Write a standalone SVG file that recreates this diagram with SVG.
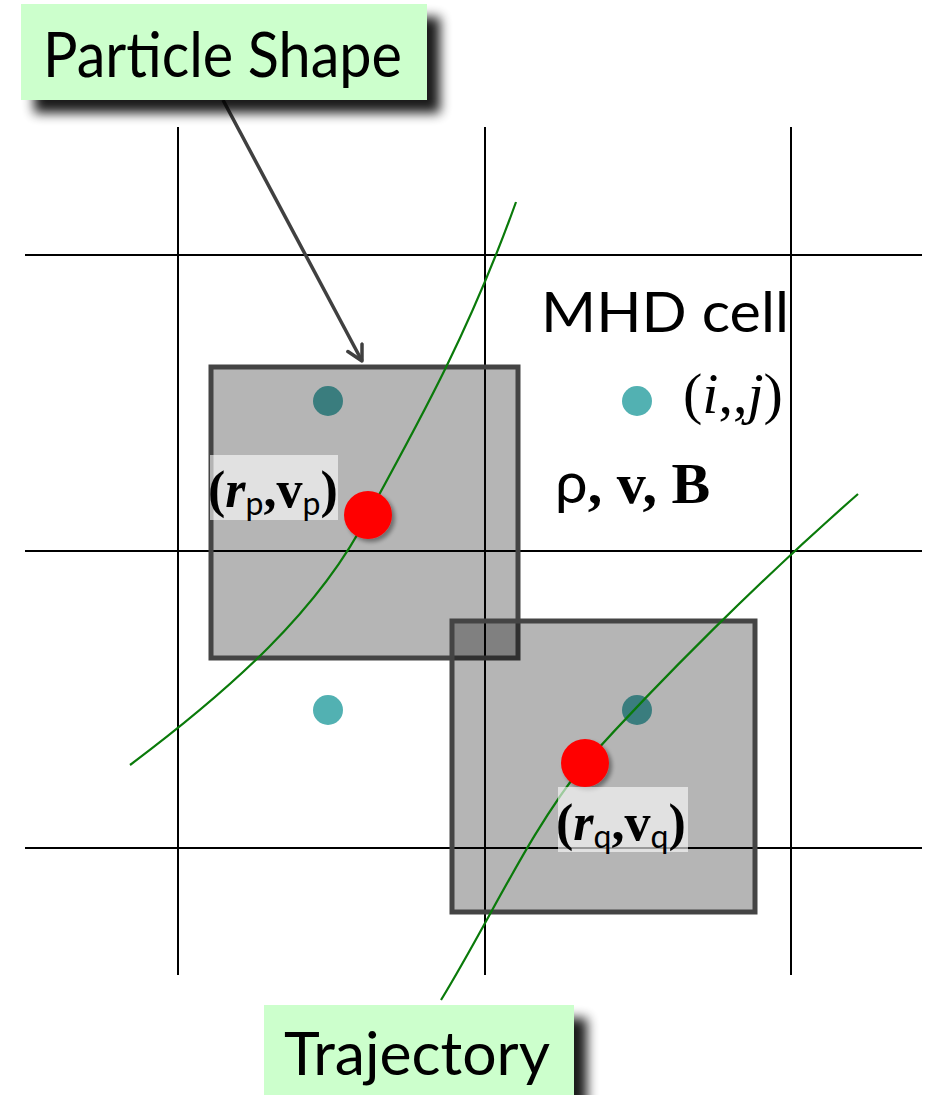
<svg xmlns="http://www.w3.org/2000/svg" width="932" height="1095" viewBox="0 0 932 1095">
<defs>
<filter id="sh" x="-10%" y="-20%" width="130%" height="170%">
<feGaussianBlur in="SourceAlpha" stdDeviation="6"/>
<feOffset dx="13" dy="13" result="b"/>
<feComponentTransfer><feFuncA type="linear" slope="0.9"/></feComponentTransfer>
<feMerge><feMergeNode/><feMergeNode in="SourceGraphic"/></feMerge>
</filter>
<filter id="dsh" x="-50%" y="-50%" width="200%" height="200%">
<feGaussianBlur in="SourceAlpha" stdDeviation="2"/>
<feOffset dx="3" dy="3"/>
<feComponentTransfer><feFuncA type="linear" slope="0.4"/></feComponentTransfer>
<feMerge><feMergeNode/><feMergeNode in="SourceGraphic"/></feMerge>
</filter>
<marker id="ah" viewBox="0 0 20 20" refX="17" refY="10" markerWidth="20" markerHeight="20" markerUnits="userSpaceOnUse" orient="auto">
<path d="M2,2 L17,10 L2,18" fill="none" stroke="#404040" stroke-width="3.5" stroke-linecap="round" stroke-linejoin="round"/>
</marker>
</defs>
<style>
.grid{stroke:#000;stroke-width:2}
.shape{fill:#000;fill-opacity:0.29;stroke:#444;stroke-width:5}
.cell{fill:#52b1b2}
.part{fill:#ff0000;filter:url(#dsh)}
.traj{fill:none;stroke:#0a7a0a;stroke-width:2.2}
.lbg{fill:#fff;fill-opacity:0.6}
.callout{fill:#ccffcc;filter:url(#sh)}
.gs{font-family:Lato,"Open Sans",sans-serif;fill:#000}
.tm{font-family:"Liberation Serif",serif;fill:#000}
</style>
<rect width="932" height="1095" fill="#fff"/>
<g id="grid">
<line class="grid" x1="178" y1="127" x2="178" y2="975"/>
<line class="grid" x1="485" y1="127" x2="485" y2="975"/>
<line class="grid" x1="791" y1="127" x2="791" y2="975"/>
<line class="grid" x1="25" y1="255" x2="922" y2="255"/>
<line class="grid" x1="25" y1="551" x2="922" y2="551"/>
<line class="grid" x1="25" y1="848" x2="922" y2="848"/>
</g>
<g id="cells">
<circle class="cell" cx="328" cy="401" r="15"/>
<circle class="cell" cx="637" cy="401" r="15"/>
<circle class="cell" cx="328" cy="710" r="15"/>
<circle class="cell" cx="637" cy="710" r="15"/>
</g>
<g id="shape-p"><rect class="shape" x="211" y="367" width="307" height="291"/></g>
<g id="shape-q"><rect class="shape" x="452" y="621" width="303" height="291"/></g>
<g id="connectors">
<path class="traj" d="M130,765 C230,690 320,610 368,515 C420,420 470,330 516,202"/>
<path class="traj" d="M441,1000 C490,920 530,830 585,763 C660,680 760,580 858,494"/>
<line x1="223" y1="100" x2="362" y2="361" stroke="#404040" stroke-width="3.5" marker-end="url(#ah)"/>
</g>
<g id="particle-p">
<circle class="part" cx="368" cy="515" r="24"/>
<rect class="lbg" x="210" y="455" width="128" height="65"/>
<text class="tm" x="208" y="507" font-size="52" font-weight="bold">(<tspan font-style="italic">r</tspan><tspan class="gs" font-weight="normal" font-size="32" dy="8">p</tspan><tspan dy="-8">,v</tspan><tspan class="gs" font-weight="normal" font-size="32" dy="8">p</tspan><tspan dy="-8">)</tspan></text>
</g>
<g id="particle-q">
<circle class="part" cx="585" cy="763" r="24"/>
<rect class="lbg" x="558" y="787" width="130" height="65"/>
<text class="tm" x="556" y="840" font-size="52" font-weight="bold">(<tspan font-style="italic">r</tspan><tspan class="gs" font-weight="normal" font-size="32" dy="8">q</tspan><tspan dy="-8">,v</tspan><tspan class="gs" font-weight="normal" font-size="32" dy="8">q</tspan><tspan dy="-8">)</tspan></text>
</g>
<g id="mhd-cell">
<text class="gs" x="541" y="332" font-size="56" textLength="248" lengthAdjust="spacingAndGlyphs">MHD cell</text>
<text class="tm" x="683" y="413" font-size="58">(<tspan font-style="italic">i</tspan>,,<tspan font-style="italic">j</tspan>)</text>
<text x="555" y="503" font-size="58"><tspan class="gs">ρ</tspan><tspan class="tm" font-weight="bold">, v, B</tspan></text>
</g>
<g id="callout-shape">
<rect class="callout" x="21" y="4" width="406" height="96"/>
<text class="gs" x="43" y="77" font-size="62" textLength="359" lengthAdjust="spacingAndGlyphs">Particle Shape</text>
</g>
<g id="callout-traj">
<rect class="callout" x="264" y="1005" width="310" height="100"/>
<text class="gs" x="284" y="1075" font-size="60" textLength="266" lengthAdjust="spacingAndGlyphs">Trajectory</text>
</g>
</svg>
